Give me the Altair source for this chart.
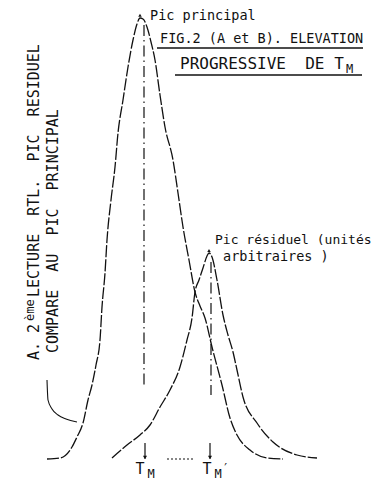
import altair as alt
import pandas as pd

# Pic principal (tall peak) – temperature units vs arbitrary intensity
main_x = [9.75, 13, 16, 17.25, 18.75, 20, 21, 22, 23, 23.5,
          24.25, 24.75, 25.75, 26.75, 27.5, 28.75, 30, 31.25, 32.25, 33,
          33.75, 34.75, 35.75, 36.75, 38, 39.25, 41.25, 42.5, 43.75, 45.25,
          46.75, 48, 49.25, 51, 53.5, 55.5, 57.25, 60.5, 64.75, 68.75]
main_y = [0.25, 0.5, 3.25, 5.75, 9.25, 15, 18.75, 23.75, 30, 38.25,
          46.75, 55, 65, 73.25, 81.75, 90, 98.25, 105, 109, 110.5,
          110.25, 108.25, 104.5, 100, 91.25, 83.25, 75, 66.75, 58.25, 50,
          42, 38.5, 35.5, 28.25, 18.75, 10.5, 6.25, 2.5, 0.5, 0.25]

# Pic residuel
resid_x = [26, 29.75, 33, 35.5, 38, 40.5, 43, 44.75, 46, 46.75,
           47.75, 48.75, 49.75, 50.25, 51, 52.25, 53.75, 55, 56.25, 57.25,
           58.75, 62.25, 66.25, 72.25, 77.25]
resid_y = [0.5, 3.75, 6.25, 8.75, 13.25, 17.5, 23.25, 30, 35.5, 42,
           45, 48, 51, 51.75, 50.75, 45, 36.25, 31.25, 27, 22.5,
           15.75, 9.25, 4.5, 1.25, 0.5]

# small bracket drawn under the vertical title
brk_x = [9.75, 10, 11, 12.5, 14.5, 17.25]
brk_y = [20, 15, 12.75, 11.25, 10.25, 9.5]

# peak positions (T_M, T'_M) and dash-dot verticals
peak_pos = [34, 50.75]
peak_top = [108.75, 49.5]
peak_bot = [18, 16.25]
arrow_x = [34.25, 50.5]
tip_x = [33, 50.25]
tip_y = [111.2, 52.4]

NB = "\u00a0"

XS = alt.Scale(domain=[0, 94], nice=False, zero=False)
YS = alt.Scale(domain=[-5.5, 113], nice=False, zero=False)


def X(f="x"):
    return alt.X(f + ":Q", scale=XS, axis=None)


def Y(f="y"):
    return alt.Y(f + ":Q", scale=YS, axis=None)


curves = pd.DataFrame({
    "x": main_x + resid_x,
    "y": main_y + resid_y,
    "s": ["main"] * len(main_x) + ["resid"] * len(resid_x),
    "o": list(range(len(main_x))) + list(range(len(resid_x))),
})
curve_layer = alt.Chart(curves).mark_line(
    color="#111", strokeWidth=1.3, strokeDash=[12, 2], interpolate="monotone"
).encode(x=X(), y=Y(), detail="s:N", order="o:Q")

brk = pd.DataFrame({"x": brk_x, "y": brk_y, "o": list(range(len(brk_x)))})
brk_layer = alt.Chart(brk).mark_line(
    color="#111", strokeWidth=1.1, interpolate="monotone"
).encode(x=X(), y=Y(), order="o:Q")

vert = pd.DataFrame({"x": peak_pos, "y": peak_top, "y2": peak_bot})
vert_layer = alt.Chart(vert).mark_rule(
    color="#111", strokeWidth=1.2, strokeDash=[11, 4, 1.5, 4]
).encode(x=X(), y=Y(), y2=alt.Y2("y2:Q"))

arr = pd.DataFrame({"x": arrow_x, "y": [4.25, 4.25], "y2": [0.3, 0.3]})
arr_layer = alt.Chart(arr).mark_rule(color="#111", strokeWidth=1.2).encode(
    x=X(), y=Y(), y2=alt.Y2("y2:Q"))
head_layer = alt.Chart(pd.DataFrame({"x": arrow_x, "y": [0.6, 0.6]})).mark_point(
    shape="triangle-down", filled=True, color="#111", size=16, opacity=1
).encode(x=X(), y=Y())

tips_layer = alt.Chart(pd.DataFrame({"x": tip_x, "y": tip_y})).mark_point(
    shape="triangle-up", filled=True, color="#111", size=12, opacity=1
).encode(x=X(), y=Y())

dot_layer = alt.Chart(pd.DataFrame({"x": [39.75], "x2": [46.75], "y": [0.25]})).mark_rule(
    color="#111", strokeWidth=1.2, strokeDash=[2, 2]
).encode(x=X(), x2=alt.X2("x2:Q"), y=Y())

under = pd.DataFrame({"x": [37.25, 41.75], "x2": [88.75, 88.5], "y": [103, 96.25]})
under_layer = alt.Chart(under).mark_rule(color="#111", strokeWidth=1.4).encode(
    x=X(), x2=alt.X2("x2:Q"), y=Y())

FONT = "DejaVu Sans Mono"

htext = pd.DataFrame({
    "t": ["Pic principal", "FIG.2 (A et B). ELEVATION", "PROGRESSIVE" + NB + NB + "DE T", "M",
          "Pic résiduel (unités", "arbitraires )"],
    "x": [35.5, 38, 43, 84.5, 51.75, 53.75],
    "y": [110, 104.25, 97.75, 96.75, 54, 49.75],
    "size": [13.5, 13.5, 16, 12, 13, 13.5],
})
htext_layer = alt.Chart(htext).mark_text(
    align="left", baseline="alphabetic", font=FONT, color="#111"
).encode(x=X(), y=Y(), text="t:N", size=alt.Size("size:Q", scale=None, legend=None))

ctext = pd.DataFrame({
    "t": ["T", "M", "T", "′", "M"],
    "x": [33, 35.75, 49.75, 54.4, 52.5],
    "y": [-3.6, -4.6, -3.6, -2.9, -4.6],
    "size": [15, 12, 15, 12, 12],
})
ctext_layer = alt.Chart(ctext).mark_text(
    align="center", baseline="alphabetic", font=FONT, color="#111"
).encode(x=X(), y=Y(), text="t:N", size=alt.Size("size:Q", scale=None, legend=None))

vtext = pd.DataFrame({
    "t": ["A. 2", "ème",
          "LECTURE" + NB + NB + "RTL." + NB + NB + "PIC" + NB + NB + "RESIDUEL",
          "COMPARE" + NB + NB + "AU" + NB + NB + "PIC" + NB + NB + "PRINCIPAL"],
    "x": [7.625, 6.5, 7.625, 12.6],
    "y": [25, 34.75, 40.75, 26.75],
    "size": [15, 12, 15, 15],
})
vtext_layer = alt.Chart(vtext).mark_text(
    align="left", baseline="alphabetic", font=FONT, color="#111", angle=270
).encode(x=X(), y=Y(), text="t:N", size=alt.Size("size:Q", scale=None, legend=None))

chart = alt.layer(
    curve_layer, brk_layer, vert_layer, arr_layer, head_layer, tips_layer,
    dot_layer, under_layer, htext_layer, ctext_layer, vtext_layer
).properties(
    width=376, height=474, padding=0,
    autosize=alt.AutoSizeParams(type="none"),
    background="white",
).configure_view(stroke=None)

chart.save("out.html", embed_options={"renderer": "svg", "actions": False})
